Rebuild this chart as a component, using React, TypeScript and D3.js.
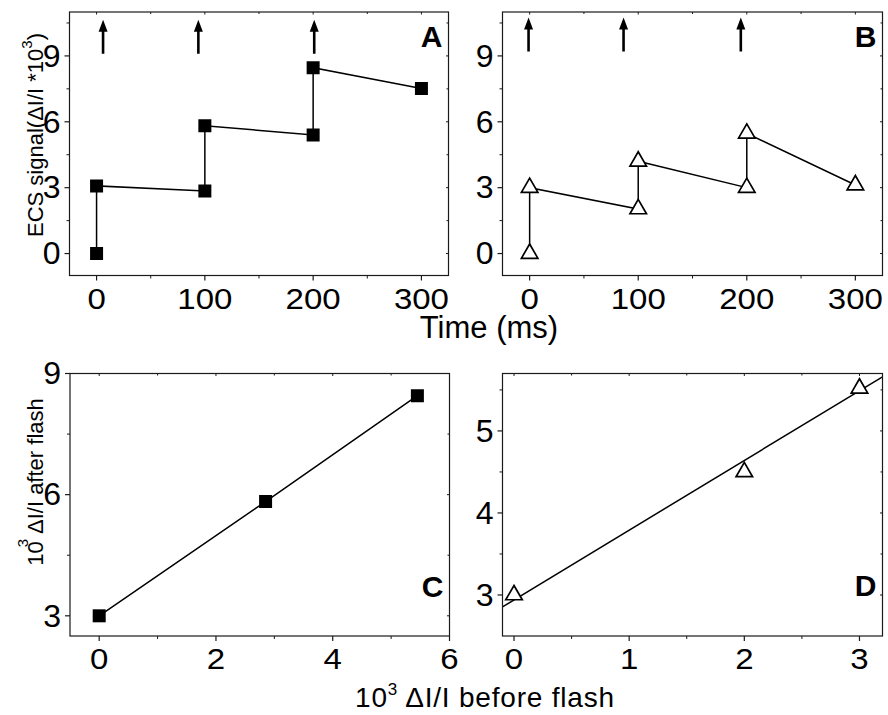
import React from "react";
import * as d3 from "d3";

// ---------- data ----------
const timeA = [0, 0, 100, 100, 200, 200, 300];
const signalA = [0, 3.08, 2.85, 5.82, 5.4, 8.46, 7.52];
const timeB = [0, 0, 100, 100, 200, 200, 300];
const signalB = [0, 3.0, 2.03, 4.2, 3.0, 5.47, 3.12];
const flashA = [6, 94, 201];
const flashB = [-1, 86.5, 194.5];
const arrowA = [9.1, 10.65];
const arrowB = [9.2, 10.75];

const beforeC = [0, 2.85, 5.45];
const afterC = [3.0, 5.83, 8.45];
const beforeD = [0, 2, 3];
const afterD = [3.0, 4.5, 5.52];
const fitD = { intercept: 2.94, slope: 0.85 };

const timeTicks = [0, 100, 200, 300];
const timeMinor = [50, 150, 250];
const ecsTicks = [0, 3, 6, 9];
const ecsMinor = [1.5, 4.5, 7.5, 10.5];
const cxTicks = [0, 2, 4, 6];
const cxMinor = [1, 3, 5];
const cyTicks = [3, 6, 9];
const cyMinor = [4.5, 7.5];
const dxTicks = [0, 1, 2, 3];
const dxMinor = [0.5, 1.5, 2.5];
const dyTicks = [3, 4, 5];
const dyMinor = [3.5, 4.5, 5.5];

const FONT = "'Liberation Sans', Arial, Helvetica, sans-serif";
const FRAME = "#1a1a1a";

type Rect = { l: number; t: number; r: number; b: number };

function Panel(props: {
  rect: Rect;
  xDomain: [number, number];
  yDomain: [number, number];
  xMajor: number[];
  xMinor: number[];
  yMajor: number[];
  yMinor: number[];
  letter: string;
  letterBaseline: number;
  children: (x: d3.ScaleLinear<number, number>, y: d3.ScaleLinear<number, number>) => React.ReactNode;
  clipId: string;
}) {
  const { rect, xDomain, yDomain, xMajor, xMinor, yMajor, yMinor, letter, letterBaseline, clipId } = props;
  const x = d3.scaleLinear().domain(xDomain).range([rect.l, rect.r]);
  const y = d3.scaleLinear().domain(yDomain).range([rect.b, rect.t]);
  return (
    <g>
      <defs>
        <clipPath id={clipId}>
          <rect x={rect.l} y={rect.t} width={rect.r - rect.l} height={rect.b - rect.t} />
        </clipPath>
      </defs>
      <g clipPath={`url(#${clipId})`}>{props.children(x, y)}</g>
      <rect
        x={rect.l}
        y={rect.t}
        width={rect.r - rect.l}
        height={rect.b - rect.t}
        fill="none"
        stroke={FRAME}
        strokeWidth={1.2}
      />
      {xMajor.map((v) => (
        <g key={"xm" + v}>
          <line x1={x(v)} x2={x(v)} y1={rect.b} y2={rect.b + 5} stroke={FRAME} strokeWidth={1.2} />
          <line x1={x(v)} x2={x(v)} y1={rect.t} y2={rect.t + 2.5} stroke={FRAME} strokeWidth={1} />
          <text
            transform={`translate(${x(v)},${rect.b + 33}) scale(1.1,1)`}
            textAnchor="middle"
            fontFamily={FONT}
            fontSize={30}
            fill="#000"
          >
            {v}
          </text>
        </g>
      ))}
      {xMinor.map((v) => (
        <g key={"xn" + v}>
          <line x1={x(v)} x2={x(v)} y1={rect.b} y2={rect.b + 3} stroke={FRAME} strokeWidth={1} />
          <line x1={x(v)} x2={x(v)} y1={rect.t} y2={rect.t + 2} stroke={FRAME} strokeWidth={1} />
        </g>
      ))}
      {yMajor.map((v) => (
        <g key={"ym" + v}>
          <line x1={rect.l - 5} x2={rect.l} y1={y(v)} y2={y(v)} stroke={FRAME} strokeWidth={1.2} />
          <line x1={rect.r - 2.5} x2={rect.r} y1={y(v)} y2={y(v)} stroke={FRAME} strokeWidth={1} />
          <text
            transform={`translate(${rect.l - 9},${y(v) + 10.8}) scale(1.05,1)`}
            textAnchor="end"
            fontFamily={FONT}
            fontSize={30.5}
            fill="#000"
          >
            {v}
          </text>
        </g>
      ))}
      {yMinor.map((v) => (
        <g key={"yn" + v}>
          <line x1={rect.l - 3} x2={rect.l} y1={y(v)} y2={y(v)} stroke={FRAME} strokeWidth={1} />
          <line x1={rect.r - 2} x2={rect.r} y1={y(v)} y2={y(v)} stroke={FRAME} strokeWidth={1} />
        </g>
      ))}
      <text
        x={rect.r - 6}
        y={letterBaseline}
        textAnchor="end"
        fontFamily={FONT}
        fontSize={30}
        fontWeight="bold"
        fill="#000"
      >
        {letter}
      </text>
    </g>
  );
}

const squarePath = d3.symbol(d3.symbolSquare, 169)()!;
const trianglePath = d3.symbol(d3.symbolTriangle, 118)()!;

function Squares({ xs, ys, x, y }: any) {
  return (
    <g>
      {xs.map((v: number, i: number) => (
        <path key={i} d={squarePath} transform={`translate(${x(v)},${y(ys[i])})`} fill="#000" />
      ))}
    </g>
  );
}

function Triangles({ xs, ys, x, y }: any) {
  return (
    <g>
      {xs.map((v: number, i: number) => (
        <path
          key={i}
          d={trianglePath}
          transform={`translate(${x(v)},${y(ys[i])})`}
          fill="#fff"
          stroke="#000"
          strokeWidth={1.7}
        />
      ))}
    </g>
  );
}

function Polyline({ xs, ys, x, y }: any) {
  const line = d3
    .line<number>()
    .x((d) => x(d))
    .y((_, i) => y(ys[i]));
  return <path d={line(xs) || ""} fill="none" stroke="#000" strokeWidth={1.5} />;
}

function Arrows({ xs, range, x, y }: any) {
  return (
    <g>
      {xs.map((v: number, i: number) => {
        const px = x(v);
        const yb = y(range[0]);
        const yt = y(range[1]);
        return (
          <g key={i}>
            <line x1={px} x2={px} y1={yb} y2={yt + 8} stroke="#000" strokeWidth={2.6} />
            <path d={`M${px},${yt} L${px - 4.5},${yt + 12} L${px + 4.5},${yt + 12} Z`} fill="#000" />
          </g>
        );
      })}
    </g>
  );
}

export default function App() {
  const rA: Rect = { l: 69.5, t: 12, r: 448.5, b: 275.5 };
  const rB: Rect = { l: 502.5, t: 12, r: 882.5, b: 275.5 };
  const rC: Rect = { l: 70, t: 373.5, r: 449.5, b: 636 };
  const rD: Rect = { l: 502.5, t: 373.5, r: 882.5, b: 636 };

  return (
    <svg
      width={888}
      height={715}
      viewBox="0 0 888 715"
      style={{ position: "absolute", left: 0, top: 0, background: "#fff" }}
    >
      <rect x={0} y={0} width={888} height={715} fill="#fff" />

      <Panel
        rect={rA}
        xDomain={[-25, 325]}
        yDomain={[-1, 11]}
        xMajor={timeTicks}
        xMinor={timeMinor}
        yMajor={ecsTicks}
        yMinor={ecsMinor}
        letter="A"
        letterBaseline={47}
        clipId="clipA"
      >
        {(x, y) => (
          <g>
            <Polyline xs={timeA} ys={signalA} x={x} y={y} />
            <Squares xs={timeA} ys={signalA} x={x} y={y} />
            <Arrows xs={flashA} range={arrowA} x={x} y={y} />
          </g>
        )}
      </Panel>

      <Panel
        rect={rB}
        xDomain={[-25, 325]}
        yDomain={[-1, 11]}
        xMajor={timeTicks}
        xMinor={timeMinor}
        yMajor={ecsTicks}
        yMinor={ecsMinor}
        letter="B"
        letterBaseline={47}
        clipId="clipB"
      >
        {(x, y) => (
          <g>
            <Polyline xs={timeB} ys={signalB} x={x} y={y} />
            <Triangles xs={timeB} ys={signalB} x={x} y={y} />
            <Arrows xs={flashB} range={arrowB} x={x} y={y} />
          </g>
        )}
      </Panel>

      <Panel
        rect={rC}
        xDomain={[-0.5, 6]}
        yDomain={[2.5, 9]}
        xMajor={cxTicks}
        xMinor={cxMinor}
        yMajor={cyTicks}
        yMinor={cyMinor}
        letter="C"
        letterBaseline={597}
        clipId="clipC"
      >
        {(x, y) => (
          <g>
            <Polyline xs={beforeC} ys={afterC} x={x} y={y} />
            <Squares xs={beforeC} ys={afterC} x={x} y={y} />
          </g>
        )}
      </Panel>

      <Panel
        rect={rD}
        xDomain={[-0.1, 3.2]}
        yDomain={[2.5, 5.7]}
        xMajor={dxTicks}
        xMinor={dxMinor}
        yMajor={dyTicks}
        yMinor={dyMinor}
        letter="D"
        letterBaseline={596}
        clipId="clipD"
      >
        {(x, y) => {
          const fx = [-0.1, 3.2];
          const fy = fx.map((v) => fitD.intercept + fitD.slope * v);
          return (
            <g>
              <Polyline xs={fx} ys={fy} x={x} y={y} />
              <Triangles xs={beforeD} ys={afterD} x={x} y={y} />
            </g>
          );
        }}
      </Panel>

      {/* axis titles */}
      <text
        transform="translate(43,135) rotate(-90)"
        textAnchor="middle"
        fontFamily={FONT}
        fontSize={22}
        fill="#000"
      >
        ECS signal(ΔI/I *10
        <tspan dy={-11} fontSize={15}>3</tspan>
        <tspan dy={11}>)</tspan>
      </text>

      <text
        transform="translate(43,482) rotate(-90)"
        textAnchor="middle"
        fontFamily={FONT}
        fontSize={22}
        fill="#000"
      >
        10
        <tspan dx={-6} dy={-15} fontSize={15}>3</tspan>
        <tspan dy={15}> ΔI/I after flash</tspan>
      </text>

      <text x={489} y={338} textAnchor="middle" fontFamily={FONT} fontSize={31} fill="#000">
        Time (ms)
      </text>

      <text
        x={485}
        y={707}
        textAnchor="middle"
        fontFamily={FONT}
        fontSize={28}
        letterSpacing={0.8}
        fill="#000"
      >
        10
        <tspan dy={-12} fontSize={17}>3</tspan>
        <tspan dy={12}> ΔI/I before flash</tspan>
      </text>
    </svg>
  );
}
